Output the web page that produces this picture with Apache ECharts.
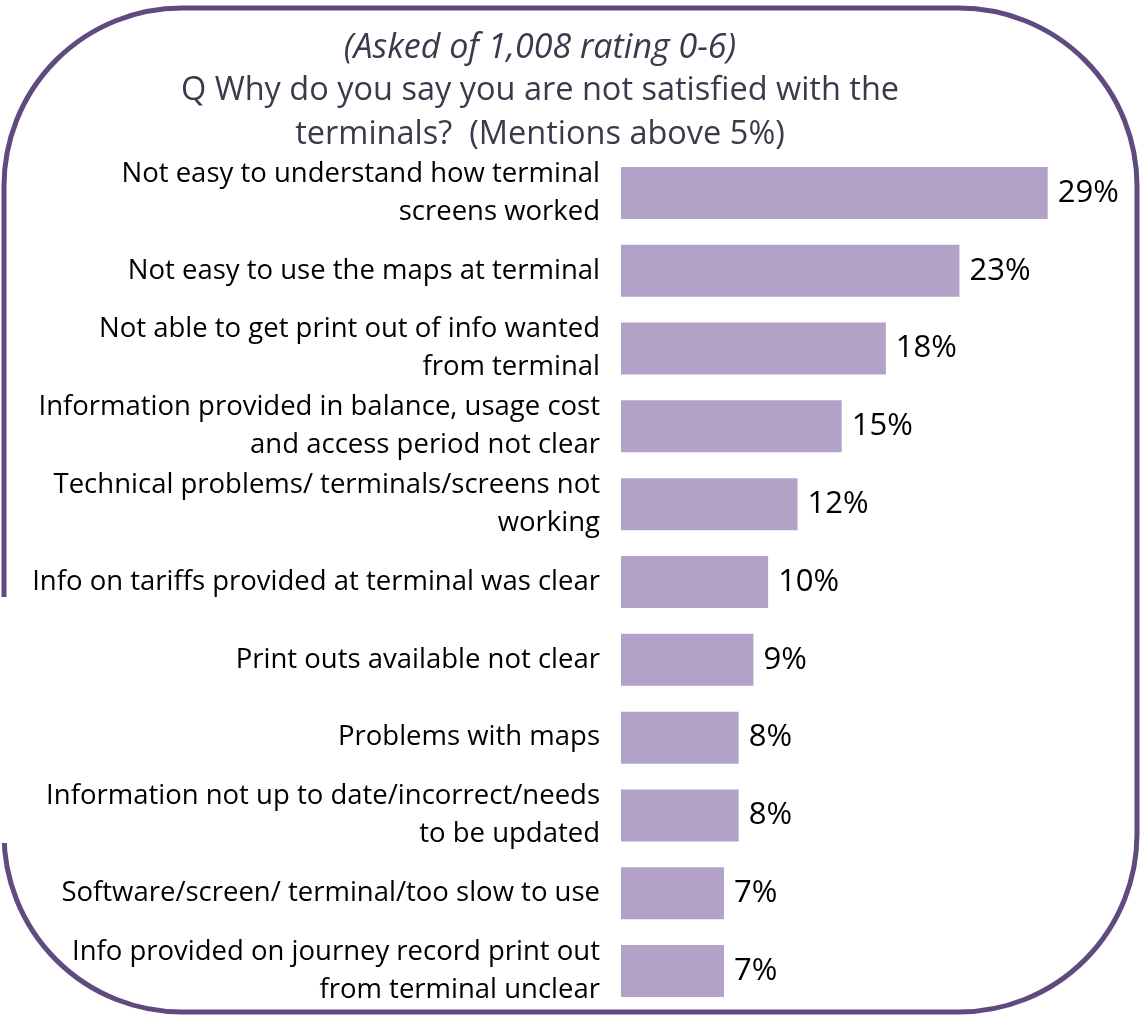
<!DOCTYPE html>
<html>
<head>
<meta charset="utf-8">
<script src="https://cdn.jsdelivr.net/npm/echarts@6/dist/echarts.min.js"></script>
<style>html,body{margin:0;padding:0;background:#fff;}#c{width:1144px;height:1016px;}</style>
</head>
<body>
<div id="c"></div>
<script>
var categories = [
  "Not easy to understand how terminal\nscreens worked",
  "Not easy to use the maps at terminal",
  "Not able to get print out of info wanted\nfrom terminal",
  "Information provided in balance, usage cost\nand access period not clear",
  "Technical problems/ terminals/screens not\nworking",
  "Info on tariffs provided at terminal was clear",
  "Print outs available not clear",
  "Problems with maps",
  "Information not up to date/incorrect/needs\nto be updated",
  "Software/screen/ terminal/too slow to use",
  "Info provided on journey record print out\nfrom terminal unclear"
];
var values = [29, 23, 18, 15, 12, 10, 9, 8, 8, 7, 7];
var titleLine1 = "(Asked of 1,008 rating 0-6)";
var titleLine2 = "Q Why do you say you are not satisfied with the\nterminals?  (Mentions above 5%)";

var FONT = "Open Sans";
var chart = echarts.init(document.getElementById('c'), null, {renderer: 'canvas'});
chart.setOption({
  animation: false,
  backgroundColor: '#ffffff',
  title: [
    {text: titleLine1, left: 535, top: 23, textAlign: 'center',
     textStyle: {fontFamily: FONT, fontStyle: 'italic', fontWeight: 'normal', fontSize: 34, lineHeight: 40, color: '#3b3a4c'}},
    {text: titleLine2, left: 535, top: 64, textAlign: 'center',
     textStyle: {fontFamily: FONT, fontWeight: 'normal', fontSize: 32.5, lineHeight: 44, color: '#3b3a4c'}}
  ],
  grid: {left: 621, top: 154, width: 515, height: 856, containLabel: false},
  xAxis: {type: 'value', min: 0, max: 35, show: false},
  yAxis: {
    type: 'category', data: categories, inverse: true,
    axisLine: {show: false}, axisTick: {show: false}, splitLine: {show: false},
    axisLabel: {margin: 21, align: 'right', fontFamily: FONT, fontSize: 27.5, lineHeight: 38, color: '#000000'}
  },
  series: [{
    type: 'bar', data: values, barWidth: 52,
    itemStyle: {color: '#b3a2c8'},
    label: {show: true, position: 'right', distance: 10, formatter: '{c}%',
            fontFamily: FONT, fontSize: 31, color: '#000000'}
  }],
  graphic: [
    {type: 'rect', shape: {x: 4, y: 8, width: 1133, height: 1004, r: 178},
     style: {fill: 'none', stroke: '#5f4b80', lineWidth: 5}, z: 10},
    {type: 'rect', shape: {x: 0, y: 597, width: 10, height: 246},
     style: {fill: '#ffffff'}, z: 11}
  ]
});
</script>
</body>
</html>
